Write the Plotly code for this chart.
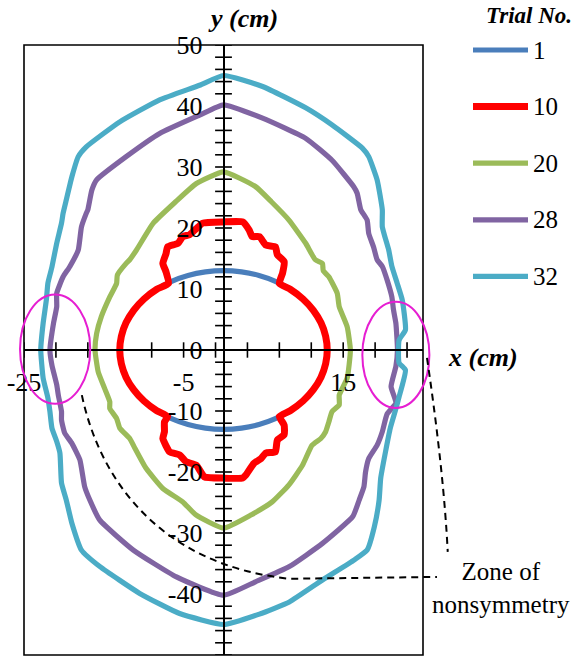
import numpy as np
import plotly.graph_objects as go

# Contours of each trial (x, y in cm), traced clockwise from the top
trial_names = ["1", "10", "20", "28", "32"]

t1_x = [0, 2.26, 4.45, 6.5, 8.36, 9.96, 11.26, 12.22, 12.8, 13, 12.8, 12.22, 11.26, 9.96, 8.36,
        6.5, 4.45, 2.26, 0, -2.26, -4.45, -6.5, -8.36, -9.96, -11.26, -12.22, -12.8, -13,
        -12.8, -12.22, -11.26, -9.96, -8.36, -6.5, -4.45, -2.26, 0]
t1_y = [13, 12.8, 12.22, 11.26, 9.96, 8.36, 6.5, 4.45, 2.26, 0, -2.26, -4.45, -6.5, -8.36, -9.96,
        -11.26, -12.22, -12.8, -13, -12.8, -12.22, -11.26, -9.96, -8.36, -6.5, -4.45, -2.26, 0,
        2.26, 4.45, 6.5, 8.36, 9.96, 11.26, 12.22, 12.8, 13]

t10_x = [0, 2.4, 3.2, 3.6, 4.5, 5.3, 6.5, 6.75, 7.6, 7.4, 7.0, 8.36, 9.96, 11.26, 12.22, 12.8, 13,
         12.8, 12.22, 11.26, 9.96, 8.36, 7.0, 7.6, 7.6, 6.75, 6.5, 5.3, 4.7, 3.8, 2.8, 2.4, 0,
         -2.4, -3.4, -4.7, -5.5, -6.75, -7.6, -7.4, -7.4, -7.0, -8.36, -9.96, -11.26, -12.22,
         -12.8, -13, -12.8, -12.22, -11.26, -9.96, -8.36, -6.9, -7.2, -7.6, -7.2, -7.0, -5.7,
         -5.1, -4.25, -3.4, -2.6, 0]
t10_y = [21, 21, 19.7, 18.6, 18.6, 17.2, 16.9, 15.6, 14.5, 12.6, 10.9, 9.96, 8.36, 6.5, 4.45,
         2.26, 0, -2.26, -4.45, -6.5, -8.36, -9.96, -10.9, -12.3, -13.9, -14.75, -16.7, -16.9,
         -17.8, -18.6, -20.5, -21, -21, -20.8, -18.9, -18.3, -17.2, -16.7, -14.5, -13.4, -11.8,
         -10.9, -9.96, -8.36, -6.5, -4.45, -2.26, 0, 2.26, 4.45, 6.5, 8.36, 9.96, 10.9, 12.8,
         14.2, 15.8, 16.9, 17.5, 18.6, 18.9, 19.9, 20.8, 21]

t20_x = [0, 4.0, 6.0, 8.2, 10.3, 11.5, 12.4, 12.5, 13.2, 14.25, 14.5, 15.5, 15.9, 15.5, 14.5,
         14.5, 13.6, 13.2, 12.8, 12.2, 11.1, 9.9, 8.2, 6.1, 3.5, 0, -3.5, -5.1, -7.6, -9.7,
         -11.1, -11.75, -13.0, -13.4, -14.25, -14.25, -14.9, -15.7, -16.1, -15.9, -15.3, -14.25,
         -13.4, -13.3, -12.2, -11.75, -10.9, -8.8, -6.0, -3.4, 0]
t20_y = [29.2, 26.8, 24.3, 21.3, 17.5, 14.8, 14.2, 13.0, 12.0, 9.3, 7.1, 3.8, 0, -4.6, -7.4,
         -9.0, -10.1, -11.8, -13.4, -14.5, -15.6, -18.9, -22.1, -24.9, -27.0, -29.2, -27.0,
         -24.9, -22.7, -19.4, -16.1, -14.5, -12.8, -11.2, -9.6, -8.5, -6.3, -3.6, 0, 2.7, 5.5,
         8.7, 10.9, 12.3, 14.2, 14.8, 16.4, 20.8, 24.3, 27.3, 29.2]

t28_x = [0, 4.9, 10.3, 13.6, 16.3, 16.75, 17.2, 18.0, 18.2, 18.8, 19.25, 19.9, 20.5, 21.1, 21.3,
         21.6, 21.8, 21.6, 21.0, 21.6, 20.5, 19.9, 19.25, 18.2, 17.8, 17.6, 17.0, 16.2, 12.4,
         8.25, 4.0, 0, -5.9, -11.3, -15.5, -16.75, -17.4, -18.0, -19.0, -19.9, -20.3, -20.3,
         -20.7, -20.9, -21.5, -21.75, -21.3, -20.9, -20.9, -20.1, -19.25, -18.2, -17.8, -17.2,
         -17.0, -16.5, -15.9, -12.2, -8.0, -3.0, 0]
t28_y = [40.2, 38.0, 34.7, 31.1, 26.8, 25.7, 23.0, 21.3, 19.1, 16.9, 14.8, 13.7, 11.5, 8.7, 6.6,
         4.4, 0, -2.7, -6.0, -8.7, -10.5, -13.4, -15.6, -17.8, -20.0, -22.4, -24.6, -27.3,
         -31.7, -35.5, -38.0, -40.2, -37.2, -32.8, -27.9, -24.6, -22.4, -18.0, -15.3, -13.6,
         -11.5, -10.1, -7.4, -5.7, -2.5, 0, 4.4, 7.1, 9.3, 12.0, 13.7, 16.4, 20.2, 22.4, 23.0,
         26.2, 27.9, 31.7, 35.5, 38.5, 40.2]

t32_x = [0, 4.9, 10.3, 13.6, 17.4, 18.2, 19.25, 19.9, 19.9, 20.7, 21.1, 21.75, 22.4, 22.8, 22.0,
         22.0, 22.8, 22.0, 21.5, 20.9, 20.3, 19.7, 19.5, 18.9, 18.0, 16.4, 12.4, 8.25, 4.5, 0,
         -5.5, -10.5, -15.5, -17.8, -19.0, -19.7, -20.3, -20.5, -20.9, -21.5, -21.75, -22.0,
         -22.6, -22.9, -22.6, -22.2, -22.0, -21.5, -20.9, -20.3, -20.1, -19.7, -19.0, -18.2,
         -17.2, -13.0, -8.0, -3.0, 0]
t32_y = [45, 43.2, 39.7, 36.9, 33.1, 31.7, 27.9, 23.0, 20.2, 16.4, 13.7, 11.0, 8.2, 3.3, 1.6,
         -2.1, -3.3, -7.7, -10.1, -12.8, -16.7, -21.0, -24.6, -29.0, -32.8, -34.4, -37.7, -41.3,
         -43.3, -45, -43.2, -39.9, -35.5, -32.8, -28.4, -24.6, -21.8, -16.9, -15.0, -12.8,
         -10.1, -7.9, -4.6, 0, 4.4, 8.2, 11.0, 13.6, 17.5, 20.8, 22.4, 24.6, 28.4, 31.7, 33.3,
         37.4, 41.0, 43.4, 45]

series_x = [t1_x, t10_x, t20_x, t28_x, t32_x]
series_y = [t1_y, t10_y, t20_y, t28_y, t32_y]
colors = ["#4A7EBB", "#FF0000", "#9BBB59", "#8064A2", "#4BACC6"]
widths = [5.2, 7, 5.2, 5.2, 5.2]

# Axis ranges and ticks
x_range = [-25, 25]
y_range = [-50, 50]
x_labels = [-25, -5, 15]
y_labels = list(range(-50, 51, 10))
x_minor = np.arange(-25, 25, 4)
y_minor = np.arange(-50, 51, 2)

SERIF = "Liberation Serif, Times New Roman, serif"
BLACK = "#000000"
MAGENTA = "#E61ED2"

# Figure geometry (pixels)
W, H = 575, 668
M_L, M_R, M_T, M_B = 24, 152, 45, 13
PLOT_W = W - M_L - M_R
PLOT_H = H - M_T - M_B

fig = go.Figure()

# Cross tick marks on the centred axes
fig.add_trace(go.Scatter(x=x_minor, y=[0] * len(x_minor), mode="markers",
                         marker=dict(symbol="line-ns", size=11, color=BLACK,
                                     line=dict(color=BLACK, width=1.6)),
                         showlegend=False, hoverinfo="skip"))
fig.add_trace(go.Scatter(x=[0] * len(y_minor), y=y_minor, mode="markers",
                         marker=dict(symbol="line-ew", size=12, color=BLACK,
                                     line=dict(color=BLACK, width=1.6)),
                         showlegend=False, hoverinfo="skip"))

for name, xs, ys, c, w in zip(trial_names, series_x, series_y, colors, widths):
    fig.add_trace(go.Scatter(x=xs, y=ys, mode="lines", name=name, legendgroup=name,
                             line=dict(color=c, width=w, shape="spline", smoothing=0.45),
                             showlegend=False))


def px_(x):
    """data x -> paper x"""
    return (x - x_range[0]) / (x_range[1] - x_range[0])


def py_(y):
    """data y -> paper y"""
    return (y - y_range[0]) / (y_range[1] - y_range[0])


def pix_x(p):
    """screen pixel column -> paper x"""
    return (p - M_L) / PLOT_W


def pix_y(p):
    """screen pixel row -> paper y"""
    return (H - M_B - p) / PLOT_H


DASH = "7px,5px"
shapes = [
    # plot-area frame
    dict(type="rect", xref="paper", yref="paper", x0=0, x1=1, y0=0, y1=1,
         line=dict(color=BLACK, width=1.6)),
    # zones of nonsymmetry
    dict(type="circle", xref="paper", yref="paper", x0=px_(-25.5), x1=px_(-16.7),
         y0=py_(-8.8), y1=py_(9.1), line=dict(color=MAGENTA, width=2)),
    dict(type="circle", xref="paper", yref="paper", x0=px_(17.4), x1=px_(25.8),
         y0=py_(-9.5), y1=py_(7.9), line=dict(color=MAGENTA, width=2)),
    # leader lines
    dict(type="path", xref="paper", yref="paper",
         path=(f"M {px_(-17.75)},{py_(-7.4)} C {px_(-15.5)},{py_(-21.3)} "
               f"{px_(-8)},{py_(-35.2)} {px_(8.25)},{py_(-37.5)} L {px_(26.75)},{py_(-37.2)}"),
         line=dict(color=BLACK, width=2, dash=DASH)),
    dict(type="path", xref="paper", yref="paper",
         path=(f"M {px_(25.5)},{py_(-1.3)} Q {px_(27.6)},{py_(-20)} {px_(28.1)},{py_(-33.1)}"),
         line=dict(color=BLACK, width=2, dash=DASH)),
]

annotations = [
    dict(text="<b><i>y (cm)</i></b>", xref="paper", yref="paper", x=px_(2.4), y=pix_y(18),
         xanchor="center", yanchor="middle", showarrow=False,
         font=dict(family=SERIF, size=26, color=BLACK)),
    dict(text="<b><i>x (cm)</i></b>", xref="paper", yref="paper", x=pix_x(483), y=pix_y(357),
         xanchor="center", yanchor="middle", showarrow=False,
         font=dict(family=SERIF, size=26, color=BLACK)),
    dict(text="Zone of<br>nonsymmetry", xref="paper", yref="paper", x=pix_x(501), y=pix_y(588),
         xanchor="center", yanchor="middle", showarrow=False,
         font=dict(family=SERIF, size=25, color=BLACK)),
    # legend title
    dict(text="<b><i>Trial No.</i></b>", xref="paper", yref="paper", x=pix_x(529), y=pix_y(16),
         xanchor="center", yanchor="middle", showarrow=False,
         font=dict(family=SERIF, size=23, color=BLACK)),
]

# Legend: one row per trial
LEG_X0, LEG_X1, LEG_TXT = 473, 528, 531
LEG_TOP, LEG_STEP = 50, 56.6
for i, (name, c, w) in enumerate(zip(trial_names, colors, widths)):
    yy = pix_y(LEG_TOP + i * LEG_STEP)
    shapes.append(dict(type="line", xref="paper", yref="paper", x0=pix_x(LEG_X0),
                       x1=pix_x(LEG_X1), y0=yy, y1=yy,
                       line=dict(color=c, width=w)))
    annotations.append(dict(text=name, xref="paper", yref="paper", x=pix_x(LEG_TXT), y=yy,
                            xanchor="left", yanchor="middle", showarrow=False,
                            font=dict(family=SERIF, size=25, color=BLACK)))

fig.update_layout(
    width=W, height=H,
    margin=dict(l=M_L, r=M_R, t=M_T, b=M_B, autoexpand=False),
    paper_bgcolor="white", plot_bgcolor="white",
    shapes=shapes, annotations=annotations,
    showlegend=False,
    xaxis=dict(range=x_range, anchor="free", position=0.5, showline=True, linecolor=BLACK,
               linewidth=1.6, showgrid=False, zeroline=False, ticks="", automargin=False,
               tickvals=x_labels, ticktext=[str(v) for v in x_labels],
               tickfont=dict(family=SERIF, size=26, color=BLACK), ticklabelstandoff=9),
    yaxis=dict(range=y_range, anchor="free", position=0.5, showline=True, linecolor=BLACK,
               linewidth=1.6, showgrid=False, zeroline=False, ticks="", automargin=False,
               tickvals=y_labels, ticktext=[str(v) for v in y_labels],
               tickfont=dict(family=SERIF, size=26, color=BLACK), ticklabelstandoff=15),
)

fig.write_html("out.html")
